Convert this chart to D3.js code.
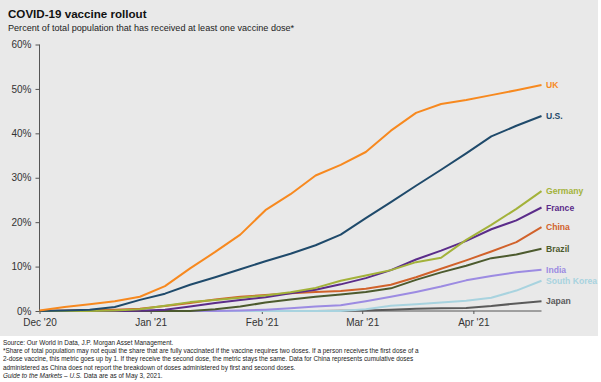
<!DOCTYPE html>
<html><head><meta charset="utf-8">
<script src="https://cdn.jsdelivr.net/npm/d3@7"></script>
<style>
html,body{margin:0;padding:0;background:#fff;}
svg{display:block;font-family:"Liberation Sans",Arial,sans-serif;}
</style></head>
<body>
<svg id="c" width="601" height="382"></svg>
<script>
// ---- data ----
const dates = ["2020-12-01","2020-12-08","2020-12-15","2020-12-22","2020-12-29","2021-01-05","2021-01-12","2021-01-19","2021-01-26","2021-02-02","2021-02-09","2021-02-16","2021-02-23","2021-03-02","2021-03-09","2021-03-16","2021-03-23","2021-03-30","2021-04-06","2021-04-13","2021-04-20"];
const countries = ["UK","U.S.","Germany","France","China","Brazil","India","South Korea","Japan"];
const uk      = [0.1,0.9,1.5,2.2,3.2,5.6,9.6,13.3,17.2,22.7,26.3,30.5,32.9,35.8,40.6,44.6,46.6,47.5,48.6,49.7,50.9];
const us      = [0,0.1,0.3,0.9,2.5,3.9,5.9,7.6,9.4,11.2,12.9,14.8,17.2,20.9,24.5,28.2,31.8,35.5,39.3,41.7,43.9];
const germany = [0,0,0,0.1,0.4,1.2,2.0,2.5,3.0,3.5,4.2,5.2,6.8,8.0,9.2,11.0,12.0,16.0,19.4,23.0,27.0];
const france  = [0,0,0,0,0.05,0.3,1.0,1.8,2.5,3.1,4.0,4.8,6.0,7.4,9.2,11.6,13.6,15.8,18.4,20.4,23.3];
const china   = [0,0.1,0.2,0.3,0.5,1.1,1.8,2.6,3.2,3.6,4.0,4.3,4.5,5.0,5.9,7.6,9.5,11.4,13.4,15.5,18.9];
const brazil  = [0,0,0,0,0,0,0,0.4,1.0,1.9,2.6,3.2,3.7,4.3,5.1,7.0,8.7,10.2,11.9,12.7,14.0];
const india   = [0,0,0,0,0,0,0,0,0.1,0.3,0.6,1.0,1.3,2.2,3.2,4.3,5.5,6.9,7.9,8.7,9.3];
const skorea  = [0,0,0,0,0,0,0,0,0,0,0,0,0,0.4,1.2,1.5,1.9,2.3,3.0,4.6,6.8];
const japan   = [0,0,0,0,0,0,0,0,0,0,0,0,0.05,0.1,0.3,0.5,0.6,0.7,1.1,1.7,2.2];
const seriesValues = [uk,us,germany,france,china,brazil,india,skorea,japan];
const colors = ["#f7891f","#1f4a6b","#a3b23a","#5b2c8a","#d1622b","#4c5a2e","#9c8be2","#a8d3df","#5a5a5a"];
const yTicks = [0,10,20,30,40,50,60];
const yTickLabels = ["0%","10%","20%","30%","40%","50%","60%"];
const xTicks = ["2020-12-01","2021-01-01","2021-02-01","2021-03-01","2021-04-01"];
const xTickLabels = ["Dec '20","Jan '21","Feb '21","Mar '21","Apr '21"];
const title = "COVID-19 vaccine rollout";
const subtitle = "Percent of total population that has received at least one vaccine dose*";
const notes = [
 "Source: Our World in Data, J.P. Morgan Asset Management.",
 "*Share of total population may not equal the share that are fully vaccinated if the vaccine requires two doses. If a person receives the first dose of a",
 "2-dose vaccine, this metric goes up by 1. If they receive the second dose, the metric stays the same. Data for China represents cumulative doses",
 "administered as China does not report the breakdown of doses administered by first and second doses."
];
const lastNoteItalic = "Guide to the Markets – U.S.";
const lastNoteRest = " Data are as of May 3, 2021.";

// ---- drawing ----
const svg = d3.select("#c");
const parse = d3.utcParse("%Y-%m-%d");
const dts = dates.map(parse);

svg.append("rect").attr("x",0).attr("y",0).attr("width",598).attr("height",336).attr("fill","#e9e9e9");

svg.append("text").attr("x",8).attr("y",18).attr("font-size",11.6).attr("font-weight","bold").attr("fill","#111").text(title);
svg.append("text").attr("x",8).attr("y",30.5).attr("font-size",9.1).attr("fill","#222").text(subtitle);

const x = d3.scaleUtc().domain([parse("2020-12-01"), parse("2021-04-20")]).range([39.5, 541.5]);
const y = d3.scaleLinear().domain([0,60]).range([311, 44.5]);

const yAxis = svg.append("g").attr("transform","translate(39.5,0)")
  .call(d3.axisLeft(y).tickValues(yTicks).tickFormat((d,i)=>yTickLabels[i]).tickSize(4).tickPadding(4));
yAxis.select(".domain").attr("stroke","#555").attr("d","M0,"+y(60)+"V"+(y(0)));
yAxis.selectAll(".tick line").attr("stroke","#555");
yAxis.selectAll("text").attr("font-size",10).attr("fill","#333").attr("font-family","Liberation Sans, Arial, sans-serif");

const xAxis = svg.append("g").attr("transform","translate(0,311)")
  .call(d3.axisBottom(x).tickValues(xTicks.map(parse)).tickFormat((d,i)=>xTickLabels[i]).tickSize(3).tickPadding(5));
xAxis.select(".domain").attr("stroke","#555").attr("d","M"+x.range()[0]+",0H"+x.range()[1]);
xAxis.selectAll(".tick line").attr("stroke","#555");
xAxis.selectAll("text").attr("font-size",10).attr("fill","#333").attr("font-family","Liberation Sans, Arial, sans-serif");

const line = d3.line().x((d,i)=>x(dts[i])).y(d=>y(d));
for (let k = seriesValues.length-1; k >= 0; k--) {
  svg.append("path").attr("d", line(seriesValues[k])).attr("fill","none")
    .attr("stroke", colors[k]).attr("stroke-width",2).attr("stroke-linejoin","round");
}
countries.forEach((c,k)=>{
  const v = seriesValues[k];
  svg.append("text").attr("x", x(dts[dts.length-1]) + 4.5).attr("y", y(v[v.length-1]))
    .attr("dy","0.35em").attr("font-size",8.6).attr("font-weight","bold").attr("fill",colors[k]).text(c);
});

const ng = svg.append("g").attr("font-size",6.4).attr("fill","#222");
notes.forEach((t,i)=>{
  ng.append("text").attr("x",3).attr("y",345 + i*8.2).text(t);
});
const lt = ng.append("text").attr("x",3).attr("y",345 + 4*8.2);
lt.append("tspan").attr("font-style","italic").text(lastNoteItalic);
lt.append("tspan").text(lastNoteRest);
</script>
</body></html>
